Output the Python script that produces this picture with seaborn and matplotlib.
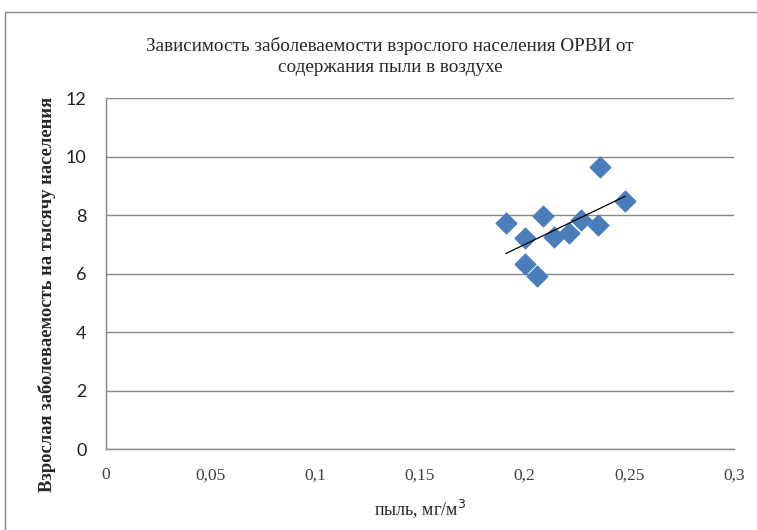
import numpy as np
import pandas as pd
import matplotlib
matplotlib.use("Agg")
import matplotlib.pyplot as plt
import seaborn as sns
from matplotlib.patches import Rectangle

# Dust concentration (mg/m3) and adult ARVI incidence per 1000 population
dust = [0.191, 0.200, 0.200, 0.206, 0.209, 0.214, 0.221, 0.227, 0.235, 0.236, 0.248]
incidence = [7.73, 7.23, 6.32, 5.92, 7.98, 7.25, 7.38, 7.83, 7.67, 9.64, 8.49]

x_ticks = [0, 0.05, 0.1, 0.15, 0.2, 0.25, 0.3]
x_tick_labels = ["0", "0,05", "0,1", "0,15", "0,2", "0,25", "0,3"]
y_ticks = [0, 2, 4, 6, 8, 10, 12]
y_tick_labels = ["0", "2", "4", "6", "8", "10", "12"]

title = "Зависимость заболеваемости взрослого населения ОРВИ от\nсодержания пыли в воздухе"
x_label = "пыль, мг/м$^3$"
y_label = "Взрослая заболеваемость на тысячу населения"

df = pd.DataFrame({"dust": dust, "incidence": incidence})

sns.set_theme(style="white")
plt.rcParams["font.family"] = ["Liberation Serif", "DejaVu Serif"]

fig = plt.figure(figsize=(7.57, 5.30), dpi=100)
ax = fig.add_axes([0.140, 0.1523, 0.8296, 0.6622])

# outer chart frame
fig.patches.append(Rectangle((5 / 757, -0.02), 1.0, 1 - 12 / 530 + 0.02,
                             transform=fig.transFigure, fill=False,
                             edgecolor="#868686", linewidth=1.0, zorder=0))

sns.scatterplot(data=df, x="dust", y="incidence", marker="D", s=120,
                color="#4A7EBB", edgecolor="#4A7EBB", linewidth=0.5,
                ax=ax, zorder=3, legend=False)

# linear trend line over the observed range
k, b = np.polyfit(df["dust"], df["incidence"], 1)
xs = np.array([min(dust), max(dust)])
ax.plot(xs, k * xs + b, color="black", linewidth=0.9, zorder=4)

ax.set_xlim(0, 0.3)
ax.set_ylim(0, 12)
ax.set_xticks(x_ticks)
ax.set_xticklabels(x_tick_labels, fontsize=12.5, family=["Liberation Sans Narrow", "Liberation Serif"])
ax.set_yticks(y_ticks)
ax.set_yticklabels(y_tick_labels, fontsize=13, family=["Lato", "DejaVu Sans"])
ax.tick_params(axis="x", pad=13, length=0, colors="#404040")
ax.tick_params(axis="y", pad=14, length=0, colors="#202020")

ax.grid(axis="y", color="#868686", linewidth=1.0)
ax.grid(axis="x", visible=False)
for side in ["top", "right"]:
    ax.spines[side].set_visible(False)
ax.spines["left"].set_color("#868686")
ax.spines["bottom"].set_color("#868686")
ax.spines["left"].set_linewidth(1.0)
ax.spines["bottom"].set_linewidth(1.0)

ax.set_xlabel(x_label, fontsize=13, labelpad=10)
ax.set_ylabel(y_label, fontsize=13.3, fontweight="bold")
ax.yaxis.set_label_coords(-0.080, 0.44)

fig.text(0.515, 0.893, title, ha="center", va="center", fontsize=13.8,
         linespacing=1.3)

fig.savefig("out.png", dpi=100)
